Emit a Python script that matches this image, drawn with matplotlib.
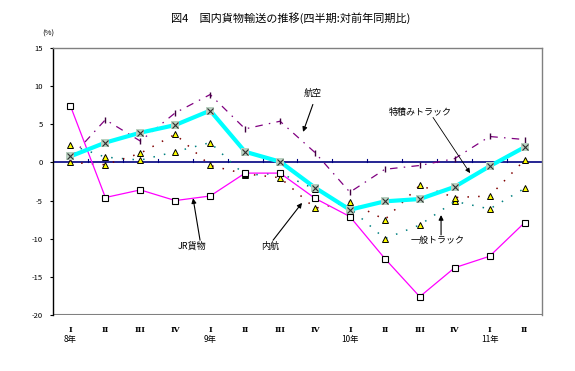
import matplotlib
matplotlib.use("Agg")
import matplotlib.pyplot as plt

plt.rcParams['font.family'] = ['Noto Sans CJK JP', 'DejaVu Sans']

quarters = ["I", "II", "III", "IV", "I", "II", "III", "IV", "I", "II", "III", "IV", "I", "II"]
years = {0: "8年", 4: "9年", 8: "10年", 12: "11年"}

tokuseki_truck = [0.8, 2.6, 3.9, 4.9, 6.8, 1.4, 0.1, -3.3, -6.2, -5.1, -4.8, -3.2, -0.5, 2.0]
koku = [0.6, 5.6, 2.8, 6.5, 8.9, 4.4, 5.4, 1.3, -3.9, -0.9, -0.4, 0.5, 3.4, 3.0]
jr_kamotsu = [7.4, -4.6, -3.6, -5.0, -4.4, -1.4, -1.4, -4.7, -7.1, -12.6, -17.6, -13.8, -12.3, -7.9]
naiko = [0.0, -0.3, 1.2, 3.7, -0.4, -1.5, -2.0, -6.0, -5.2, -7.5, -3.0, -4.6, -4.4, 0.3]
ippan_truck = [2.3, 0.7, 0.3, 1.4, 2.6, -1.7, -1.4, -3.5, -6.0, -10.0, -8.2, -5.1, -6.1, -3.4]

yticks = [15, 10, 5, 0, -5, -10, -15, -20]

W, H = 575, 371
fig = plt.figure(figsize=(W / 100, H / 100), dpi=100)
ax = fig.add_axes([53 / W, 1 - 315 / H, (542 - 53) / W, (315 - 48) / H])

x = list(range(len(quarters)))

# series
ax.plot(x, ippan_truck, color='#008080', lw=1.1, ls=(0, (1, 6)), zorder=2,
        marker='^', ms=5, mfc='#ffff00', mec='black', mew=0.7)
ax.plot(x, naiko, color='#800000', lw=1.1, ls=(0, (1, 6)), zorder=2,
        marker='^', ms=5, mfc='#ffff00', mec='black', mew=0.7)
ax.plot(x, jr_kamotsu, color='#ff00ff', lw=0.9, zorder=3,
        marker='s', ms=4, mfc='white', mec='black', mew=0.8)
ax.plot(x, koku, color='#800080', lw=0.9, ls=(0, (6, 5, 1.2, 5)), zorder=3,
        marker=r'$\mathrm{I}$', ms=5, mfc='#400040', mec='#400040')
ax.plot(x, tokuseki_truck, color='#00ffff', lw=3.0, zorder=4,
        marker='s', ms=6, mfc='#b8d0c0', mec='#b8d0c0', mew=0)
ax.plot(x, tokuseki_truck, ls='none', zorder=5,
        marker='x', ms=4, mec='#303030', mew=0.8)

ax.set_xlim(-0.5, len(quarters) - 0.5)
ax.set_ylim(-20, 15)

# frame
for s in ['top', 'right']:
    ax.spines[s].set_color('#808080')
    ax.spines[s].set_linewidth(1.0)
ax.spines['left'].set_color('black')
ax.spines['left'].set_linewidth(1.0)
ax.spines['bottom'].set_visible(False)
ax.axhline(-20, color='#808080', lw=1.5, zorder=1)

# zero line acting as category axis
ax.axhline(0, color='#000080', lw=1.2, zorder=1)
ax.set_xticks([i + 0.5 for i in x[:-1]])
ax.tick_params(axis='x', length=0, labelbottom=False)
for i in x[:-1]:
    ax.plot([i + 0.5, i + 0.5], [0, 0.4], color='#000080', lw=0.8, zorder=1)

ax.set_yticks(yticks)
ax.set_yticklabels([str(v) for v in yticks], fontsize=5.5)
ax.tick_params(axis='y', length=2.5, width=0.8, pad=5, color='black')

trans = ax.get_xaxis_transform()
for i, q in enumerate(quarters):
    ax.text(i, -0.04, q, transform=trans, ha='center', va='top', fontsize=5.5,
            fontfamily='DejaVu Serif', fontweight='bold')
for i, yl in years.items():
    ax.text(i, -0.075, yl, transform=trans, ha='center', va='top', fontsize=6)

# annotations
arrow = dict(arrowstyle='-|>', color='black', lw=0.8, mutation_scale=7,
             shrinkA=0, shrinkB=0)
ax.text(6.94, 9.1, "航空", ha='center', va='center', fontsize=6.5)
ax.annotate("", xy=(6.66, 4.0), xytext=(6.94, 7.6), arrowprops=arrow)
ax.text(10.0, 6.6, "特積みトラック", ha='center', va='center', fontsize=6.5)
ax.annotate("", xy=(11.44, -1.4), xytext=(10.38, 5.9),
            arrowprops=dict(arrow, lw=0.6))
ax.text(3.48, -11.0, "JR貨物", ha='center', va='center', fontsize=6.5)
ax.annotate("", xy=(3.51, -4.7), xytext=(3.71, -10.2), arrowprops=arrow)
ax.text(5.71, -11.0, "内航", ha='center', va='center', fontsize=6.5)
ax.annotate("", xy=(6.63, -5.3), xytext=(5.80, -10.2), arrowprops=arrow)
ax.text(10.52, -10.2, "一般トラック", ha='center', va='center', fontsize=6.5)
ax.annotate("", xy=(10.61, -6.9), xytext=(10.61, -9.5), arrowprops=arrow)

fig.text(291 / W, 1 - 18 / H, "図4　国内貨物輸送の推移(四半期:対前年同期比)",
         ha='center', va='center', fontsize=8)
fig.text(48 / W, 1 - 34 / H, "(%)", ha='center', va='center', fontsize=5.5)

fig.savefig("out.png", dpi=100, facecolor='white')
